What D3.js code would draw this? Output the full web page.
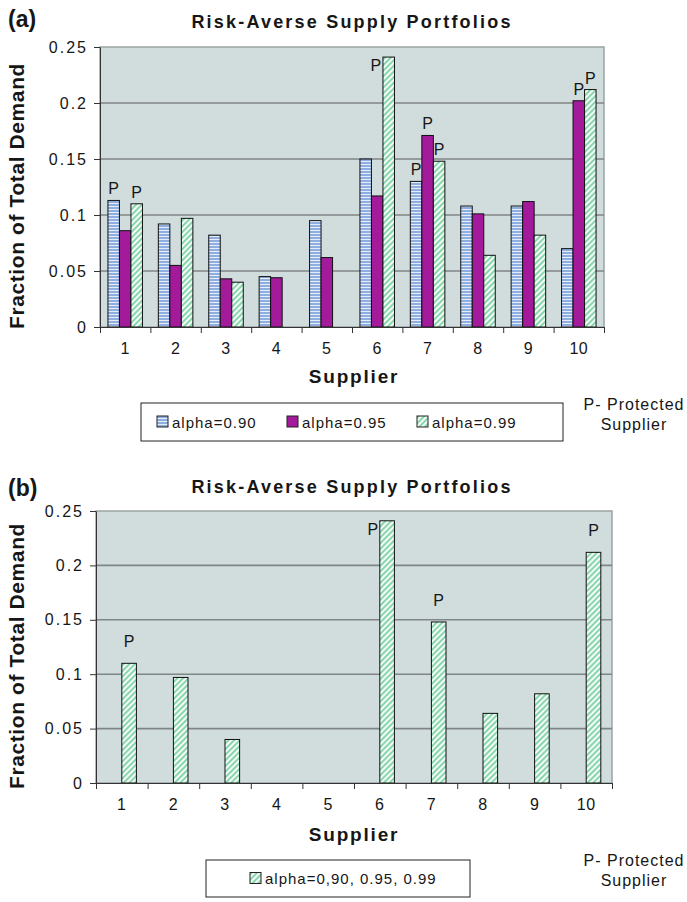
<!DOCTYPE html>
<html>
<head>
<meta charset="utf-8">
<script src="https://cdn.jsdelivr.net/npm/d3@7"></script>
<style>
  body { margin: 0; background: #fff; }
  text { font-family: "Liberation Sans", Arial, sans-serif; fill: #161616; }
</style>
</head>
<body>
<svg id="chart" width="687" height="902"></svg>
<script>
// values
const suppliers = ["1", "2", "3", "4", "5", "6", "7", "8", "9", "10"];
const seriesNames = ["alpha=0.90", "alpha=0.95", "alpha=0.99"];
const alpha90 = [0.113, 0.092, 0.082, 0.045, 0.095, 0.150, 0.130, 0.108, 0.108, 0.070];
const alpha95 = [0.086, 0.055, 0.043, 0.044, 0.062, 0.117, 0.171, 0.101, 0.112, 0.202];
const alpha99 = [0.110, 0.097, 0.040, 0, 0, 0.241, 0.148, 0.064, 0.082, 0.212];
const yTicks = [0, 0.05, 0.1, 0.15, 0.2, 0.25];
const protectedA = [["1", "alpha=0.90"], ["1", "alpha=0.99"], ["6", "alpha=0.99"],
  ["7", "alpha=0.90"], ["7", "alpha=0.95"], ["7", "alpha=0.99"],
  ["10", "alpha=0.95"], ["10", "alpha=0.99"]];
const protectedB = ["1", "6", "7", "10"];
const combinedName = "alpha=0,90, 0.95, 0.99";
const noteLines = ["P- Protected", "Supplier"];

const svg = d3.select("#chart");

// fill patterns like the excel ones
const defs = svg.append("defs");
let hs = defs.append("pattern").attr("id", "hstripe").attr("patternUnits", "userSpaceOnUse")
  .attr("width", 4).attr("height", 3);
hs.append("rect").attr("width", 4).attr("height", 3).attr("fill", "#e6edf8");
hs.append("rect").attr("width", 4).attr("height", 2).attr("fill", "#8eaee0");

let ds = defs.append("pattern").attr("id", "dstripe").attr("patternUnits", "userSpaceOnUse")
  .attr("width", 4).attr("height", 4).attr("patternTransform", "rotate(45)");
ds.append("rect").attr("width", 4).attr("height", 4).attr("fill", "#f4fbf7");
ds.append("rect").attr("width", 2).attr("height", 4).attr("fill", "#88d6ad");

const fills = {"alpha=0.90": "url(#hstripe)", "alpha=0.95": "#a31b9b", "alpha=0.99": "url(#dstripe)"};
fills[combinedName] = "url(#dstripe)";

function drawPanel(opt) {
  let g = svg.append("g");
  let x = d3.scaleBand().domain(suppliers).range([opt.left, opt.right])
    .paddingInner(opt.padIn).paddingOuter(opt.padIn / 2);
  let y = d3.scaleLinear().domain([0, 0.25]).range([opt.bottom, opt.top]);
  let xSub = d3.scaleBand().domain(opt.slots).range([0, x.bandwidth()]);
  let edges = d3.scaleLinear().domain([0, suppliers.length]).range([opt.left, opt.right]);

  // panel letter + title
  g.append("text").attr("x", 8).attr("y", opt.letterY).attr("font-size", 23)
    .attr("font-weight", "bold").text(opt.letter);
  g.append("text").attr("x", 352).attr("y", opt.titleY).attr("text-anchor", "middle")
    .attr("font-size", 18).attr("font-weight", "bold").attr("letter-spacing", 2.2)
    .text("Risk-Averse Supply Portfolios");

  // plot area
  g.append("rect").attr("x", opt.left).attr("y", opt.top)
    .attr("width", opt.right - opt.left).attr("height", opt.bottom - opt.top)
    .attr("fill", "#d1dcdc").attr("stroke", "#9aa4a4").attr("stroke-width", 1.5);
  g.selectAll(".grid").data(yTicks.filter(d => d > 0 && d < 0.25)).join("line")
    .attr("x1", opt.left).attr("x2", opt.right)
    .attr("y1", d => y(d)).attr("y2", d => y(d))
    .attr("stroke", "#808585").attr("stroke-width", 1.6);

  // bars
  opt.series.forEach(s => {
    g.selectAll(null)
      .data(s.values.map((v, i) => ({sup: suppliers[i], v: v})).filter(d => d.v > 0))
      .join("rect")
      .attr("x", d => x(d.sup) + xSub(s.slot))
      .attr("y", d => y(d.v))
      .attr("width", xSub.bandwidth())
      .attr("height", d => y(0) - y(d.v))
      .attr("fill", fills[s.name])
      .attr("stroke", "#111").attr("stroke-width", 1);
  });

  // "P" marks for protected suppliers
  let labels = opt.protect.map(p => {
    let s = opt.series.find(e => e.name === p[1]);
    let v = s.values[suppliers.indexOf(p[0])];
    return {cx: x(p[0]) + xSub(s.slot) + xSub.bandwidth() / 2, top: y(v)};
  });
  g.selectAll(".plab").data(labels).join("text")
    .attr("text-anchor", "middle").attr("font-size", 16)
    .attr("x", d => d.top - opt.top < 20 ? d.cx - xSub.bandwidth() / 2 - 7 : d.cx)
    .attr("y", d => d.top - opt.top < 20 ? d.top + 14 : d.top - opt.labelGap)
    .text("P");

  // y axis
  let yAxis = g.append("g").attr("transform", `translate(${opt.left},0)`)
    .call(d3.axisLeft(y).tickValues(yTicks).tickSize(6).tickSizeOuter(0).tickPadding(6)
      .tickFormat(d => String(d)));
  yAxis.selectAll("text").attr("font-size", 16).attr("letter-spacing", 2)
    .attr("font-family", "Liberation Sans, Arial, sans-serif").attr("fill", "#161616");
  yAxis.selectAll("line, path").attr("stroke", "#333");

  // x axis: ticks on category edges, labels centred
  let xEdge = g.append("g").attr("transform", `translate(0,${opt.bottom})`)
    .call(d3.axisBottom(edges).tickValues(d3.range(suppliers.length + 1)).tickSize(6)
      .tickSizeOuter(0).tickFormat(""));
  xEdge.selectAll("line, path").attr("stroke", "#333");
  let xLab = g.append("g").attr("transform", `translate(0,${opt.bottom})`)
    .call(d3.axisBottom(x).tickSize(0).tickPadding(16));
  xLab.select(".domain").remove();
  xLab.selectAll("text").attr("font-size", 16).attr("letter-spacing", 0.5)
    .attr("font-family", "Liberation Sans, Arial, sans-serif").attr("fill", "#161616");

  // axis titles
  g.append("text").attr("transform", `translate(24,${(opt.top + opt.bottom) / 2 + 9}) rotate(-90)`)
    .attr("text-anchor", "middle").attr("font-size", 21).attr("font-weight", "bold")
    .attr("letter-spacing", 0.6).text("Fraction of Total Demand");
  g.append("text").attr("x", 354).attr("y", opt.bottom + opt.xTitleGap).attr("text-anchor", "middle")
    .attr("font-size", 19).attr("font-weight", "bold").attr("letter-spacing", 1.8)
    .text("Supplier");

  // legend box
  let lg = g.append("g");
  lg.append("rect").attr("x", opt.legend.x).attr("y", opt.legend.y)
    .attr("width", opt.legend.w).attr("height", opt.legend.h)
    .attr("fill", "#fff").attr("stroke", "#222").attr("stroke-width", 1);
  let lx = d3.scaleBand().domain(opt.legend.items)
    .range([opt.legend.x + opt.legend.pad, opt.legend.x + opt.legend.w - opt.legend.pad]);
  let item = lg.selectAll(".item").data(opt.legend.items).join("g")
    .attr("transform", d => `translate(${lx(d)},${opt.legend.y + opt.legend.h / 2})`);
  item.append("rect").attr("x", 0).attr("y", -6).attr("width", 11).attr("height", 11)
    .attr("fill", d => fills[d]).attr("stroke", "#222");
  item.append("text").attr("x", 15).attr("y", 5.5).attr("font-size", 15)
    .attr("letter-spacing", 1).text(d => d);

  // note on the right
  g.selectAll(".note").data(noteLines).join("text")
    .attr("x", 634).attr("y", (d, i) => opt.noteY + i * 20).attr("text-anchor", "middle")
    .attr("font-size", 16).attr("letter-spacing", 1).text(d => d);
}

drawPanel({
  letter: "(a)", letterY: 27, titleY: 28,
  left: 100, right: 604, top: 47, bottom: 327, padIn: 0.315,
  slots: seriesNames,
  series: [
    {name: "alpha=0.90", slot: "alpha=0.90", values: alpha90},
    {name: "alpha=0.95", slot: "alpha=0.95", values: alpha95},
    {name: "alpha=0.99", slot: "alpha=0.99", values: alpha99}
  ],
  protect: protectedA, labelGap: 6, xTitleGap: 56,
  legend: {x: 141, y: 403, w: 422, h: 38, pad: 16, items: seriesNames},
  noteY: 410
});

// second panel: one combined series, excel left an empty slot before it
drawPanel({
  letter: "(b)", letterY: 496, titleY: 493,
  left: 96, right: 612, top: 511, bottom: 783, padIn: 0.434,
  slots: ["empty", combinedName],
  series: [{name: combinedName, slot: combinedName, values: alpha99}],
  protect: protectedB.map(s => [s, combinedName]), labelGap: 16, xTitleGap: 58,
  legend: {x: 206, y: 860, w: 264, h: 37, pad: 44, items: [combinedName]},
  noteY: 866
});
</script>
</body>
</html>
